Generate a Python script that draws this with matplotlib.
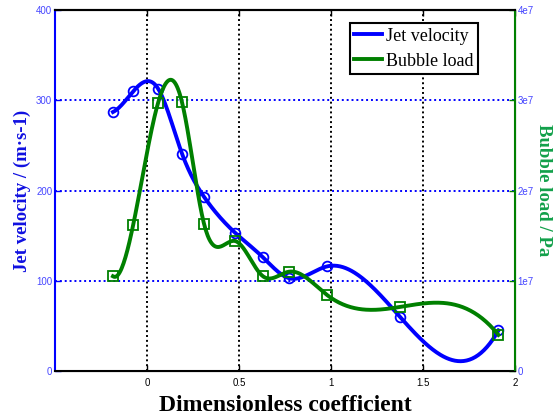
import numpy as np
import matplotlib
matplotlib.use("Agg")
import matplotlib.pyplot as plt
from matplotlib.lines import Line2D

# values
coef = [-0.185, -0.075, 0.06, 0.19, 0.31, 0.48, 0.63, 0.77, 0.98, 1.375, 1.91]
jet_velocity = [287, 310, 313, 241, 193, 153, 126, 103, 116, 60, 45]
bubble_load = [1.05e7, 1.62e7, 2.97e7, 2.98e7, 1.63e7, 1.44e7, 1.05e7, 1.10e7, 0.84e7, 0.71e7, 0.40e7]

x_ticks = [0, 0.5, 1, 1.5, 2]
x_tick_labels = ["0", "0.5", "1", "1.5", "2"]
v_ticks = [0, 100, 200, 300, 400]
p_ticks = [0, 1e7, 2e7, 3e7, 4e7]
p_tick_labels = ["0", "1e7", "2e7", "3e7", "4e7"]


def spline(x, y, xs):
    # not-a-knot cubic spline, like matlab's spline()
    x = np.asarray(x, float)
    y = np.asarray(y, float)
    n = len(x) - 1
    h = np.diff(x)
    A = np.zeros((n + 1, n + 1))
    b = np.zeros(n + 1)
    A[0, 0], A[0, 1], A[0, 2] = h[1], -(h[0] + h[1]), h[0]
    A[n, n - 2], A[n, n - 1], A[n, n] = h[n - 1], -(h[n - 2] + h[n - 1]), h[n - 2]
    for i in range(1, n):
        A[i, i - 1] = h[i - 1]
        A[i, i] = 2 * (h[i - 1] + h[i])
        A[i, i + 1] = h[i]
        b[i] = 6 * ((y[i + 1] - y[i]) / h[i] - (y[i] - y[i - 1]) / h[i - 1])
    M = np.linalg.solve(A, b)
    idx = np.clip(np.searchsorted(x, xs) - 1, 0, n - 1)
    x0, x1, hh = x[idx], x[idx + 1], h[idx]
    return (M[idx] * (x1 - xs) ** 3 / (6 * hh) + M[idx + 1] * (xs - x0) ** 3 / (6 * hh)
            + (y[idx] / hh - M[idx] * hh / 6) * (x1 - xs)
            + (y[idx + 1] / hh - M[idx + 1] * hh / 6) * (xs - x0))


blue = "#0000ff"
green = "#008000"
tick_blue = "#4646ff"

fig = plt.figure(figsize=(5.59, 4.18), dpi=100)
ax = fig.add_axes([0.0984, 0.1124, 0.8229, 0.8636])
ax2 = ax.twinx()

xs = np.linspace(coef[0], coef[-1], 400)
ax.plot(xs, spline(coef, jet_velocity, xs), color=blue, lw=2.8, zorder=3)
ax.plot(coef, jet_velocity, "o", ms=7, mfc="none", mec=blue, mew=1.3, zorder=4)
ax2.plot(xs, spline(coef, bubble_load, xs), color=green, lw=2.8, zorder=3)
ax2.plot(coef, bubble_load, "s", ms=6.5, mfc="none", mec=green, mew=1.3, zorder=4)

ax.set_xlim(-0.5, 2)
ax.set_ylim(0, 400)
ax2.set_ylim(0, 4e7)

ax.set_xticks(x_ticks)
ax.set_xticklabels(x_tick_labels, fontsize=7, family="Liberation Sans")
ax.set_yticks(v_ticks)
ax.set_yticklabels([str(v) for v in v_ticks], fontsize=7, family="Liberation Sans", color=tick_blue)
ax2.set_yticks(p_ticks)
ax2.set_yticklabels(p_tick_labels, fontsize=7, family="Liberation Sans", color=tick_blue)

# grid: black dotted verticals, blue dotted horizontals
for xv in x_ticks[:-1]:
    ax.axvline(xv, color="black", ls=(0, (1, 1.5)), lw=1.4, zorder=1)
for yv in v_ticks[1:-1]:
    ax.axhline(yv, color=blue, ls=(0, (1, 1.5)), lw=1.4, zorder=1)

ax.tick_params(axis="x", direction="in", top=True, length=4, width=1, pad=5)
ax.tick_params(axis="y", direction="in", length=4, width=1, colors=blue, labelcolor=tick_blue, pad=2)
ax2.tick_params(axis="y", direction="in", length=4, width=1, colors=green, labelcolor=tick_blue, pad=2)

for s in ["top", "bottom"]:
    ax.spines[s].set_linewidth(1.5)
ax.spines["left"].set_color(blue)
ax.spines["left"].set_linewidth(1.5)
ax2.spines["right"].set_color(green)
ax2.spines["right"].set_linewidth(1.5)
ax2.spines["left"].set_visible(False)
ax2.spines["top"].set_linewidth(1.5)

ax.set_xlabel("Dimensionless coefficient", fontsize=17, fontweight="bold",
              family="Liberation Serif", labelpad=5)
ax.set_ylabel("Jet velocity / (m\u00b7s-1)", fontsize=13.5, fontweight="bold",
              family="Liberation Serif", color="#1010e0", labelpad=4)
ax2.set_ylabel("Bubble load / Pa", fontsize=13.5, fontweight="bold",
               family="Liberation Serif", color="#12a04a", rotation=270, labelpad=13)

handles = [Line2D([], [], color=blue, lw=2.8), Line2D([], [], color=green, lw=2.8)]
leg = ax2.legend(handles, ["Jet velocity", "Bubble load"], loc="upper left",
                 bbox_to_anchor=(0.641, 0.964), frameon=True, fancybox=False,
                 prop={"family": "Liberation Serif", "size": 13},
                 handlelength=1.55, handletextpad=0.2, borderpad=0.25,
                 labelspacing=0.45, borderaxespad=0)
leg.get_frame().set_edgecolor("black")
leg.get_frame().set_linewidth(1.5)
leg.get_frame().set_alpha(1)

fig.savefig("out.png", dpi=100)
